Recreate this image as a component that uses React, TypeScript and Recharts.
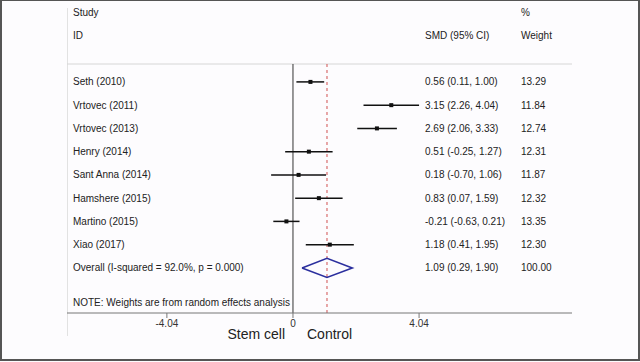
import React from 'react';
import { ScatterChart, Scatter, XAxis, YAxis, ErrorBar, ReferenceLine } from 'recharts';

// study rows, top to bottom
const studies = ['Seth (2010)', 'Vrtovec (2011)', 'Vrtovec (2013)', 'Henry (2014)', 'Sant Anna (2014)', 'Hamshere (2015)', 'Martino (2015)', 'Xiao (2017)'];
const smd = [0.56, 3.15, 2.69, 0.51, 0.18, 0.83, -0.21, 1.18];
const lower = [0.11, 2.26, 2.06, -0.25, -0.70, 0.07, -0.63, 0.41];
const upper = [1.00, 4.04, 3.33, 1.27, 1.06, 1.59, 0.21, 1.95];
const weights = ['13.29', '11.84', '12.74', '12.31', '11.87', '12.32', '13.35', '12.30'];

const overallLabel = 'Overall  (I-squared = 92.0%, p = 0.000)';
const overall = { est: 1.09, lo: 0.29, hi: 1.90, weight: '100.00' };
const noteText = 'NOTE: Weights are from random effects analysis';
const xTicks = [-4.04, 0, 4.04];

const FONT = 'Liberation Sans, Arial, Helvetica, sans-serif';
const OVERALL_ROW = studies.length + 1;
const NOTE_ROW = OVERALL_ROW + 1.5;

const fmt = (v: number) => v.toFixed(2);

const studyData = studies.map((name, i) => ({
    x: smd[i],
    y: i + 1,
    err: [smd[i] - lower[i], upper[i] - smd[i]],
}));

// diamond outline for pooled estimate
const diamondData = [
    { x: overall.lo, y: OVERALL_ROW },
    { x: overall.est, y: OVERALL_ROW - 0.41 },
    { x: overall.hi, y: OVERALL_ROW },
    { x: overall.est, y: OVERALL_ROW + 0.41 },
    { x: overall.lo, y: OVERALL_ROW },
];

const rowText = (row: number) => {
    if (row === NOTE_ROW) return { label: noteText, ci: '', w: '' };
    if (row === OVERALL_ROW) {
        return { label: overallLabel, ci: `${fmt(overall.est)} (${fmt(overall.lo)}, ${fmt(overall.hi)})`, w: overall.weight };
    }
    const i = row - 1;
    if (i < 0 || i >= studies.length) return { label: '', ci: '', w: '' };
    return { label: studies[i], ci: `${fmt(smd[i])} (${fmt(lower[i])}, ${fmt(upper[i])})`, w: weights[i] };
};

const renderRowTick = (props: any) => {
    const { y, payload, index } = props;
    const t = rowText(payload.value);
    return (
        <g key={`row-${index}`} fontFamily={FONT} fontSize={10} fill="#222">
            <text x={73} y={y} dy={3.5} textAnchor="start">{t.label}</text>
            <text x={425} y={y} dy={3.5} textAnchor="start">{t.ci}</text>
            <text x={521} y={y} dy={3.5} textAnchor="start">{t.w}</text>
        </g>
    );
};

const Box = (props: any) => {
    const { cx, cy } = props;
    return <rect x={cx - 2} y={cy - 2} width={4} height={4} fill="#111" />;
};

const NoShape = () => <g />;

const txt = (style: React.CSSProperties): React.CSSProperties => ({
    position: 'absolute',
    fontFamily: FONT,
    color: '#222',
    whiteSpace: 'nowrap',
    lineHeight: 1,
    ...style,
});

export default function App() {
    const rowTicks = [...studies.map((_, i) => i + 1), OVERALL_ROW, NOTE_ROW];
    return (
        <div style={{ position: 'fixed', left: 0, top: 0, width: 640, height: 362, background: '#fdfcfe', overflow: 'hidden' }}>
            <div style={{ position: 'absolute', left: 0, top: 0, width: 636, height: 358, border: '2px solid #555', borderTopWidth: 1, borderLeftWidth: 2 }} />
            <div style={{ position: 'absolute', left: 67, top: 8, width: 1, height: 328, background: '#e2e2e2' }} />

            <div style={txt({ left: 73, top: 8, fontSize: 10 })}>Study</div>
            <div style={txt({ left: 73, top: 31, fontSize: 10 })}>ID</div>
            <div style={txt({ left: 425, top: 31, fontSize: 10 })}>SMD (95% CI)</div>
            <div style={txt({ left: 521, top: 8, fontSize: 10 })}>%</div>
            <div style={txt({ left: 521, top: 31, fontSize: 10 })}>Weight</div>
            <div style={txt({ right: 640 - 285, top: 327, fontSize: 14 })}>Stem cell</div>
            <div style={txt({ left: 307, top: 327, fontSize: 14 })}>Control</div>

            <div style={{ position: 'absolute', left: 0, top: 0 }}>
                <ScatterChart width={640} height={362} margin={{ top: 64, right: 68, bottom: 19, left: 67 }}>
                    <XAxis
                        type="number"
                        dataKey="x"
                        domain={[-7.24, 8.94]}
                        ticks={xTicks}
                        tickFormatter={(v: number) => (v === 0 ? '0' : v.toFixed(2))}
                        height={30}
                        stroke="#777"
                        tick={{ fill: '#333', fontSize: 10, fontFamily: FONT }}
                        tickSize={5}
                        allowDataOverflow
                    />
                    <YAxis
                        type="number"
                        dataKey="y"
                        domain={[0.23, 10.94]}
                        reversed
                        mirror
                        width={40}
                        ticks={rowTicks}
                        tick={renderRowTick}
                        axisLine={false}
                        tickLine={false}
                        interval={0}
                        allowDataOverflow
                    />
                    <ReferenceLine y={0.23} stroke="#d6d6d6" strokeWidth={1} />
                    <ReferenceLine x={0} stroke="#333" strokeWidth={1} />
                    <ReferenceLine x={overall.est} stroke="#d05050" strokeWidth={1} strokeDasharray="3 3" />
                    <Scatter data={studyData} shape={<Box />} isAnimationActive={false}>
                        <ErrorBar dataKey="err" direction="x" width={0} stroke="#111" strokeWidth={1.5} isAnimationActive={false} />
                    </Scatter>
                    <Scatter
                        data={diamondData}
                        line={{ stroke: '#2b2f9e', strokeWidth: 1.6 }}
                        lineType="joint"
                        shape={<NoShape />}
                        isAnimationActive={false}
                    />
                </ScatterChart>
            </div>
        </div>
    );
}
